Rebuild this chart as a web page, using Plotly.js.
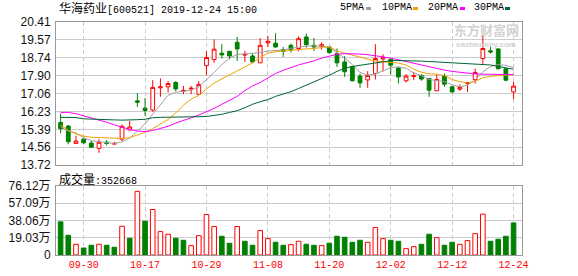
<!DOCTYPE html>
<html><head><meta charset="utf-8">
<script src="https://cdn.plot.ly/plotly-3.0.1.min.js"></script>
<style>html,body{margin:0;padding:0;background:#fff}#c{width:578px;height:276px}</style>
</head><body><div id="c"></div>
<script>
// ---- data ----
const dateLabels = ['09-30','10-17','10-29','11-08','11-20','12-02','12-12','12-24'];
const dateIdx = [3,11,19,27,35,43,51,59];
const openP  = [15.71,15.54,14.73,14.93,14.75,14.50,14.79,14.70,14.93,15.36,16.72,16.38,16.29,17.33,17.38,17.58,17.17,17.28,17.03,18.37,18.65,18.95,19.04,19.46,18.86,18.82,18.50,19.43,19.42,19.12,19.32,19.17,19.71,19.32,19.28,19.24,18.93,18.54,18.33,17.88,17.70,18.00,18.68,18.67,18.26,17.66,17.86,17.91,17.77,17.19,17.88,17.38,17.27,17.53,17.72,18.70,19.06,19.15,18.22,17.14];
const highP  = [16.13,15.59,15.09,14.97,14.86,14.93,14.89,14.81,15.62,15.79,17.08,16.85,17.69,17.77,17.64,17.64,17.42,17.42,17.64,19.04,19.60,19.37,19.06,19.71,19.06,18.93,19.66,19.76,19.88,19.24,19.40,19.74,19.87,19.66,19.46,19.28,19.17,18.82,18.33,18.00,18.11,19.37,18.90,18.69,18.28,17.97,18.08,17.97,17.79,17.95,18.00,17.41,17.49,17.60,18.22,19.79,19.24,19.17,18.25,17.61];
const lowP   = [15.20,14.69,14.73,14.70,14.53,14.29,14.64,14.69,14.84,15.36,16.44,16.02,16.21,16.91,17.11,17.17,17.03,17.03,17.00,17.92,18.50,18.70,18.67,18.59,18.54,18.50,18.50,19.24,19.21,18.78,18.98,19.04,19.21,19.06,19.12,18.93,18.31,17.84,17.63,17.33,17.33,17.72,18.10,17.95,17.53,17.58,17.69,17.66,16.91,17.19,17.38,17.10,17.19,17.14,17.53,18.45,18.93,18.20,17.64,16.80];
const closeP = [15.42,14.81,14.84,14.76,14.55,14.78,14.73,14.72,15.53,15.50,16.66,16.27,17.35,17.38,17.53,17.28,17.21,17.31,17.49,18.75,19.14,18.87,18.82,19.15,18.89,18.54,19.32,19.51,19.24,19.04,19.12,19.63,19.35,19.24,19.35,18.98,18.50,18.08,17.66,17.56,17.91,18.70,18.74,18.39,17.84,17.88,17.90,17.74,17.22,17.72,17.50,17.14,17.35,17.58,18.05,19.17,19.01,18.22,17.69,17.41];
const ma5  = [15.51,15.30,15.22,15.00,14.85,14.80,14.76,14.73,14.80,14.98,15.30,15.65,16.10,16.55,16.98,17.12,17.18,17.22,17.38,17.70,18.05,18.42,18.72,18.89,18.91,18.93,18.98,19.05,19.08,19.10,19.18,19.24,19.28,19.29,19.29,19.22,18.98,18.72,18.42,18.05,17.92,17.98,18.12,18.28,18.31,18.25,18.02,17.90,17.72,17.66,17.62,17.47,17.38,17.45,17.70,18.08,18.33,18.42,18.38,18.28];
const ma10 = [15.59,15.35,15.17,15.07,15.02,15.00,14.97,14.96,14.96,15.00,15.12,15.25,15.42,15.62,15.85,16.15,16.52,16.80,16.98,17.28,17.55,17.75,17.95,18.12,18.31,18.50,18.75,18.95,19.02,19.06,19.09,19.12,19.15,19.17,19.21,19.26,19.05,18.95,18.85,18.78,18.65,18.58,18.55,18.52,18.49,18.40,18.20,18.06,17.99,17.97,17.90,17.72,17.62,17.56,17.63,17.80,17.87,17.90,17.93,17.95];
const ma20 = [16.18,16.18,16.12,16.02,15.93,15.85,15.72,15.60,15.48,15.38,15.31,15.28,15.33,15.42,15.53,15.68,15.82,15.93,16.06,16.21,16.37,16.56,16.75,16.93,17.20,17.42,17.58,17.78,18.00,18.15,18.28,18.40,18.50,18.59,18.72,18.82,18.90,18.93,18.93,18.91,18.88,18.84,18.78,18.72,18.64,18.56,18.46,18.40,18.33,18.25,18.16,18.10,18.05,18.01,17.98,17.97,17.97,17.97,17.96,17.95];
const ma30 = [15.95,15.95,15.94,15.88,15.86,15.85,15.85,15.83,15.82,15.82,15.84,15.86,15.93,15.95,15.95,15.96,15.96,15.97,15.98,15.99,16.03,16.09,16.18,16.26,16.40,16.56,16.68,16.78,16.93,17.03,17.15,17.30,17.45,17.60,17.76,17.92,18.10,18.25,18.33,18.39,18.45,18.50,18.57,18.60,18.61,18.61,18.60,18.58,18.56,18.54,18.52,18.48,18.46,18.44,18.42,18.41,18.40,18.33,18.27,18.20];
const volume = [36.4,21.7,11.8,7.7,10.7,11.8,10.7,8.5,31.6,18.4,69.9,37.1,50.0,25.7,22.8,18.4,16.2,10.3,21.3,44.5,31.3,20.6,12.9,31.3,15.1,10.7,26.8,18.0,14.0,10.7,11.4,15.1,11.8,10.7,10.3,12.9,20.6,19.5,14.0,16.2,14.0,30.2,18.0,16.2,15.1,7.0,9.2,11.8,22.8,19.1,10.7,14.0,11.8,15.8,23.5,44.9,15.1,17.3,20.6,35.2668];
const volUp = [0,0,1,0,0,1,0,0,1,0,1,0,1,1,1,0,0,1,1,1,1,0,0,1,0,0,1,1,0,0,1,1,0,0,1,0,0,0,0,0,1,1,1,0,0,1,1,0,0,1,0,0,1,1,1,1,0,0,0,0];
const priceTicks = [13.72,14.56,15.39,16.23,17.06,17.90,18.74,19.57,20.41];
const volTicks = [0,19.03,38.06,57.09,76.12];
const volTickText = ['0','19.03万','38.06万','57.09万','76.12万'];
const maNames = ['5PMA','10PMA','20PMA','30PMA'];
const stockTitle = '华海药业';
const stockInfo = '[600521] 2019-12-24 15:00';
const lastVolText = '352668';

// ---- layout helpers ----
const W=578,H=276,L=56,R=56,T=22,B=21;
const pw=W-L-R, ph=H-T-B;
const px=x=>(x-L)/pw, py=y=>(H-B-y)/ph;
const idx = closeP.map((_,i)=>i);
const RED='#ff0000', GRN='#008000';
const maColors=['#a0a0a0','#f5a000','#ff00ff','#006633'];
const mono='Liberation Mono, DejaVu Sans Mono, monospace';
const cjk='Noto Sans CJK SC, sans-serif';

const traces=[{
  type:'candlestick', x:idx, open:openP, high:highP, low:lowP, close:closeP,
  xaxis:'x', yaxis:'y', whiskerwidth:0,
  increasing:{line:{color:RED,width:1},fillcolor:'#ffffff'},
  decreasing:{line:{color:GRN,width:1},fillcolor:GRN},
  hoverinfo:'skip', showlegend:false
}];
[ma5,ma10,ma20,ma30].forEach((m,k)=>traces.push({
  type:'scatter',mode:'lines',x:idx,y:m,xaxis:'x',yaxis:'y',
  line:{color:maColors[k],width:1},hoverinfo:'skip',showlegend:false
}));
traces.push({
  type:'bar',x:idx,y:volume,xaxis:'x2',yaxis:'y2',width:0.6,
  marker:{color:volUp.map(u=>u?'#ffffff':GRN),line:{color:volUp.map(u=>u?RED:GRN),width:1}},
  hoverinfo:'skip',showlegend:false
});

const axBase={showline:true,mirror:true,linecolor:'#999',linewidth:1,zeroline:false,ticks:''};
const xr=[-0.6,60.1];
const ann=[];
ann.push({xref:'paper',yref:'paper',x:px(57),y:py(8),xanchor:'left',yanchor:'middle',showarrow:false,
  text:stockTitle+'<span style="font-family:'+mono+';font-size:10px">'+stockInfo+'</span>',
  font:{family:cjk,size:12,color:'#000'}});
ann.push({xref:'paper',yref:'paper',x:px(57),y:py(178),xanchor:'left',yanchor:'middle',showarrow:false,
  text:'成交量<span style="font-family:'+mono+';font-size:10px">:'+lastVolText+'</span>',
  font:{family:cjk,size:12,color:'#000'}});
const legX=[338,380,426,472], sqX=[366,413,460,505];
const shapes=[];
maNames.forEach((n,k)=>{
  ann.push({xref:'paper',yref:'paper',x:px(legX[k]),y:py(8),xanchor:'left',yanchor:'middle',showarrow:false,
    text:n,font:{family:mono,size:10,color:'#000'}});
  shapes.push({type:'rect',xref:'paper',yref:'paper',x0:px(sqX[k]),x1:px(sqX[k]+5),y0:py(10),y1:py(7),
    fillcolor:maColors[k],line:{width:0}});
});
ann.push({xref:'paper',yref:'paper',x:px(486),y:py(29),xanchor:'center',yanchor:'middle',showarrow:false,
  text:'<b>东方财富网</b>',font:{family:cjk,size:13,color:'#d2d2d2'}});
ann.push({xref:'paper',yref:'paper',x:px(486),y:py(44),xanchor:'center',yanchor:'middle',showarrow:false,
  text:'<b>eastmoney.com</b>',font:{family:'Liberation Sans, sans-serif',size:8,color:'#d2d2d2'}});

const layout={
  width:W,height:H,margin:{l:L,r:R,t:T,b:B},paper_bgcolor:'#fff',plot_bgcolor:'#fff',showlegend:false,
  xaxis:Object.assign({},axBase,{domain:[0,1],anchor:'y',range:xr,tickvals:dateIdx,showticklabels:false,
    showgrid:true,gridcolor:'#cccccc',griddash:'4px,3px',rangeslider:{visible:false}}),
  yaxis:Object.assign({},axBase,{domain:[py(165),1],anchor:'x',range:[13.72,20.41],tickvals:priceTicks,
    ticktext:priceTicks.map(v=>v.toFixed(2)),showgrid:true,gridcolor:'#cccccc',ticklabelstandoff:2,
    tickfont:{family:'Liberation Sans, sans-serif',size:12,color:'#111'}}),
  xaxis2:Object.assign({},axBase,{domain:[0,1],anchor:'y2',range:xr,tickvals:dateIdx,ticktext:dateLabels,
    showgrid:true,gridcolor:'#cccccc',griddash:'4px,3px',
    tickfont:{family:mono,size:10,color:RED}}),
  yaxis2:Object.assign({},axBase,{domain:[0,py(185.7)],anchor:'x2',range:[0,76.12],tickvals:volTicks,
    ticktext:volTickText,showgrid:true,gridcolor:'#cccccc',ticklabelstandoff:2,
    tickfont:{family:'Liberation Sans, Noto Sans CJK SC, sans-serif',size:12,color:'#111'}}),
  annotations:ann, shapes:shapes
};
Plotly.newPlot('c',traces,layout,{staticPlot:true,displayModeBar:false});
</script></body></html>
